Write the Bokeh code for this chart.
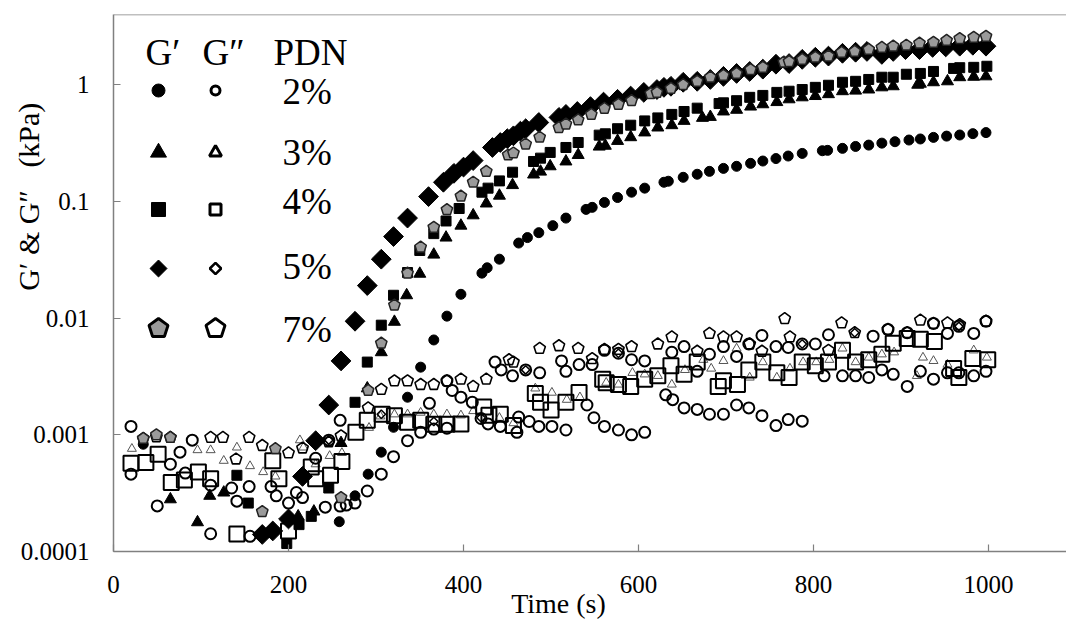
import math
from bokeh.plotting import figure
from bokeh.models import ColumnDataSource, FixedTicker, Span, Label, CustomJSTickFormatter
from bokeh.embed import file_html
from bokeh.resources import INLINE

# ---------------- data (time in s, modulus in kPa) ----------------
x_ticks = [0, 200, 400, 600, 800, 1000]
y_ticks = [1e-4, 1e-3, 1e-2, 1e-1, 1]
y_tick_labels = ["0.0001", "0.001", "0.01", "0.1", "1"]
pdn_labels = ["2%", "3%", "4%", "5%", "7%"]
x_title = "Time (s)"
y_title = "G\u2032 & G\u2033\u00a0\u00a0\u00a0(kPa)"

# G' 2 %
gp2_t = [34, 258, 276, 291, 306, 320, 336, 351, 366, 381, 397, 421, 427, 441, 463, 473, 486, 502, 517,
         540, 547, 561, 576, 592, 607, 629, 634, 651, 667, 681, 697, 712, 728, 742, 757, 771, 787, 810,
         816, 833, 848, 863, 878, 893, 909, 922, 937, 952, 967, 982, 997]
gp2_v = [0.00083, 0.00018, 0.00030, 0.00046, 0.00071, 0.00116, 0.0021, 0.0038, 0.0065, 0.0104, 0.016,
         0.0243, 0.027, 0.032, 0.044, 0.049, 0.054, 0.062, 0.072, 0.0855, 0.089, 0.098, 0.108, 0.120,
         0.130, 0.146, 0.149, 0.161, 0.171, 0.181, 0.192, 0.200, 0.212, 0.222, 0.233, 0.245, 0.258,
         0.272, 0.274, 0.285, 0.296, 0.304, 0.316, 0.325, 0.336, 0.343, 0.354, 0.363, 0.371, 0.381, 0.389]
# G' 3 %
gp3_t = [65, 96, 110, 126, 171, 180, 211, 229, 260, 290, 306, 321, 335, 350, 366, 380, 397, 411, 426,
         441, 456, 480, 488, 499, 517, 531, 555, 562, 576, 591, 607, 622, 638, 652, 673, 682, 697, 712,
         728, 742, 758, 772, 787, 802, 817, 833, 848, 863, 878, 891, 919, 922, 937, 953, 967, 983, 997]
gp3_v = [0.00028, 0.000178, 0.0003, 0.00032, 0.000142, 0.00015, 0.0002, 0.00022, 0.00085, 0.0025,
         0.0051, 0.0093, 0.0157, 0.024, 0.035, 0.049, 0.062, 0.076, 0.096, 0.112, 0.138, 0.17, 0.18,
         0.20, 0.22, 0.25, 0.295, 0.30, 0.33, 0.355, 0.39, 0.43, 0.45, 0.49, 0.52, 0.53, 0.59, 0.61,
         0.65, 0.68, 0.71, 0.75, 0.78, 0.80, 0.83, 0.88, 0.89, 0.91, 0.95, 0.97, 1.0, 1.02, 1.05, 1.07,
         1.16, 1.17, 1.18]
# G' 4 %
gp4_t = [141, 154, 198, 212, 226, 246, 276, 290, 306, 320, 336, 350, 366, 380, 395, 421, 428, 441, 456,
         480, 488, 499, 517, 531, 555, 562, 576, 591, 607, 622, 638, 652, 667, 692, 697, 712, 727, 742,
         758, 772, 787, 802, 817, 833, 848, 863, 878, 891, 906, 922, 937, 960, 967, 983, 998]
gp4_v = [0.00045, 0.00026, 0.000117, 0.00017, 0.0002, 0.00035, 0.0019, 0.0042, 0.0087, 0.0157, 0.0246,
         0.038, 0.053, 0.068, 0.087, 0.12, 0.13, 0.15, 0.178, 0.22, 0.235, 0.263, 0.29, 0.32, 0.37, 0.38,
         0.42, 0.45, 0.49, 0.52, 0.557, 0.59, 0.63, 0.69, 0.70, 0.73, 0.78, 0.81, 0.86, 0.88, 0.91, 0.95,
         0.99, 1.05, 1.07, 1.11, 1.16, 1.16, 1.23, 1.25, 1.30, 1.38, 1.40, 1.41, 1.44]
# G' 5 %
gp5_t = [170, 182, 200, 216, 231, 246, 260, 276, 290, 306, 320, 336, 360, 377, 389, 400, 411, 433, 442,
         450, 457, 465, 471, 486, 509, 517, 530, 545, 560, 576, 591, 606, 621, 629, 637, 651, 667, 682,
         697, 712, 727, 742, 757, 772, 787, 802, 817, 833, 848, 861, 878, 891, 905, 921, 936, 951, 967,
         982, 997]
gp5_v = [0.00014, 0.00015, 0.00019, 0.00044, 0.00089, 0.0018, 0.0043, 0.0094, 0.019, 0.032, 0.050,
         0.072, 0.110, 0.146, 0.174, 0.197, 0.224, 0.29, 0.32, 0.345, 0.365, 0.40, 0.42, 0.475, 0.525,
         0.557, 0.59, 0.65, 0.71, 0.75, 0.80, 0.86, 0.91, 0.95, 0.97, 1.05, 1.07, 1.11, 1.18, 1.25, 1.30,
         1.36, 1.50, 1.52, 1.65, 1.72, 1.76, 1.86, 1.90, 1.93, 1.82, 1.93, 2.0, 2.0, 2.09, 2.11, 2.14,
         2.18, 2.14]
# G' 7 %
gp7_t = [34, 49, 65, 170, 185, 260, 291, 306, 321, 336, 351, 366, 381, 397, 411, 426, 451, 457, 471,
         487, 509, 517, 531, 546, 561, 577, 592, 614, 621, 637, 651, 667, 682, 697, 712, 728, 742, 766,
         772, 787, 802, 817, 832, 847, 863, 878, 891, 906, 921, 937, 952, 967, 983, 997]
gp7_v = [0.00093, 0.0010, 0.00095, 0.00022, 0.00076, 0.00029, 0.0024, 0.0061, 0.0129, 0.0243, 0.0406,
         0.060, 0.085, 0.111, 0.146, 0.181, 0.25, 0.26, 0.31, 0.355, 0.43, 0.46, 0.50, 0.557, 0.627,
         0.68, 0.73, 0.84, 0.86, 0.93, 1.0, 1.07, 1.16, 1.20, 1.25, 1.35, 1.41, 1.56, 1.58, 1.65, 1.72,
         1.76, 1.89, 1.93, 2.01, 2.09, 2.14, 2.18, 2.27, 2.31, 2.40, 2.49, 2.55, 2.60]
# G'' 2 %
gpp2_t = [20, 20, 50, 65, 76, 82, 90, 111, 111, 135, 141, 155, 156, 180, 186, 200, 209, 216, 231, 242,
          246, 259, 259, 266, 276, 290, 306, 320, 336, 351, 361, 366, 381, 381, 387, 397, 410, 420, 428,
          436, 442, 443, 456, 461, 463, 471, 475, 486, 487, 501, 512, 517, 517, 532, 541, 547, 549, 561,
          561, 577, 577, 592, 592, 607, 607, 631, 638, 639, 652, 652, 667, 667, 681, 681, 697, 697, 712,
          712, 726, 726, 741, 741, 757, 757, 771, 771, 787, 787, 802, 812, 817, 833, 848, 863, 868, 878,
          885, 891, 907, 907, 922, 937, 937, 953, 953, 966, 966, 983, 983, 997, 997]
gpp2_v = [0.00118, 0.00046, 0.000246, 0.00056, 0.00071, 0.00047, 0.0009, 0.000142, 0.00037, 0.00035,
          0.00027, 0.00036, 0.000135, 0.00036, 0.0003, 0.00026, 0.00032, 0.00029, 0.00063, 0.00024,
          0.0009, 0.000245, 0.00133, 0.00025, 0.00026, 0.00033, 0.00046, 0.00065, 0.00089, 0.00105,
          0.00186, 0.00112, 0.00114, 0.0029, 0.0024, 0.0021, 0.0019, 0.00138, 0.00124, 0.0042, 0.00118,
          0.0036, 0.0032, 0.00105, 0.00142, 0.0036, 0.0013, 0.00118, 0.0034, 0.00118, 0.0043, 0.0011,
          0.0035, 0.0040, 0.0018, 0.0040, 0.0014, 0.00118, 0.0053, 0.0011, 0.005, 0.001, 0.0044, 0.00105,
          0.0043, 0.0022, 0.0051, 0.002, 0.0017, 0.0057, 0.00165, 0.0035, 0.0015, 0.0049, 0.0015, 0.0057,
          0.0018, 0.0047, 0.0017, 0.0060, 0.00146, 0.0071, 0.0012, 0.0057, 0.00135, 0.0056, 0.00131,
          0.006, 0.006, 0.0032, 0.0072, 0.0032, 0.0032, 0.0031, 0.007, 0.0036, 0.0080, 0.0033, 0.0026,
          0.0075, 0.0035, 0.003, 0.009, 0.0034, 0.0074, 0.0085, 0.0034, 0.0032, 0.0074, 0.0094, 0.0035]
# G'' 3 %
gpp3_t = [21, 49, 96, 111, 126, 141, 156, 171, 185, 213, 217, 231, 247, 261, 292, 305, 321, 336, 351,
          366, 381, 397, 411, 441, 457, 482, 501, 518, 533, 563, 577, 593, 607, 622, 638, 653, 674, 683,
          697, 712, 727, 742, 758, 773, 788, 803, 818, 833, 848, 863, 878, 892, 918, 925, 937, 953, 983,
          998]
gpp3_v = [0.00076, 0.001, 0.00074, 0.00074, 0.0006, 0.00078, 0.00054, 0.00048, 0.00044, 0.0009,
          0.00078, 0.00056, 0.00066, 0.0007, 0.00115, 0.00144, 0.0015, 0.0015, 0.00155, 0.0015, 0.0015,
          0.00147, 0.0016, 0.0014, 0.00126, 0.0025, 0.0023, 0.002, 0.0021, 0.0028, 0.0027, 0.0034,
          0.0033, 0.0032, 0.0027, 0.0036, 0.0044, 0.0037, 0.0043, 0.0055, 0.0031, 0.0042, 0.0031, 0.0037,
          0.0042, 0.0042, 0.0044, 0.0055, 0.0042, 0.0046, 0.0049, 0.0051, 0.0032, 0.0046, 0.0043, 0.004,
          0.0053, 0.0046]
# G'' 4 %
gpp4_t = [20, 37, 51, 66, 81, 97, 111, 141, 182, 189, 200, 226, 231, 248, 261, 277, 290, 307, 321, 336,
          351, 366, 381, 397, 423, 429, 442, 457, 482, 488, 500, 517, 532, 559, 563, 577, 591, 607, 622,
          637, 652, 667, 691, 697, 713, 726, 742, 758, 772, 787, 802, 817, 833, 848, 863, 878, 891, 907,
          922, 938, 960, 966, 982, 999]
gpp4_v = [0.00057, 0.00058, 0.00068, 0.00039, 0.00041, 0.00048, 0.00042, 0.000141, 0.0006, 0.00042,
          0.00015, 0.00053, 0.00042, 0.00045, 0.00059, 0.00105, 0.00133, 0.0015, 0.00146, 0.00128,
          0.00133, 0.00123, 0.00123, 0.00124, 0.00173, 0.00147, 0.0015, 0.0012, 0.00226, 0.0019,
          0.00163, 0.0019, 0.0023, 0.0030, 0.0028, 0.0027, 0.0026, 0.0030, 0.0032, 0.0039, 0.0033,
          0.0042, 0.0026, 0.0029, 0.0027, 0.0036, 0.0042, 0.0034, 0.0031, 0.0042, 0.0039, 0.0042,
          0.0053, 0.0042, 0.0044, 0.0049, 0.0061, 0.0067, 0.0066, 0.0063, 0.0037, 0.0031, 0.0045, 0.0044]
# G'' 5 %
gpp5_t = [34, 49, 246, 306, 366, 420, 471, 577, 787, 847, 966]
gpp5_v = [0.00093, 0.001, 0.0009, 0.0015, 0.0013, 0.0014, 0.0036, 0.005, 0.006, 0.0075, 0.0085]
# G'' 7 %
gpp7_t = [34, 49, 65, 111, 125, 140, 155, 170, 200, 216, 246, 260, 291, 306, 321, 336, 351, 366, 381,
          397, 411, 426, 452, 457, 487, 509, 531, 547, 561, 577, 592, 622, 638, 667, 681, 697, 712, 727,
          741, 767, 773, 817, 832, 847, 885, 907, 922, 937, 953, 967, 997]
gpp7_v = [0.00093, 0.00096, 0.00095, 0.00095, 0.00095, 0.00062, 0.00095, 0.00081, 0.0007, 0.00077,
          0.00087, 0.00098, 0.0017, 0.00245, 0.0029, 0.0029, 0.0027, 0.0027, 0.0029, 0.003, 0.0026,
          0.003, 0.0044, 0.0042, 0.0055, 0.0058, 0.0055, 0.0045, 0.0054, 0.0054, 0.0057, 0.006, 0.0069,
          0.0052, 0.0074, 0.0069, 0.0069, 0.006, 0.0052, 0.0099, 0.0069, 0.0053, 0.0091, 0.0075, 0.008,
          0.0075, 0.0096, 0.009, 0.0091, 0.0088, 0.0094]

# ---------------- layout ----------------
W, H = 1066, 623
BL, BR, BT, BB = 113, 0, 14, 72
X_RANGE = (0, 1089)
Y_RANGE = (1e-4, 4.0)
FW, FH = W - BL - BR, H - BT - BB
LY0, LY1 = math.log10(Y_RANGE[0]), math.log10(Y_RANGE[1])
FONT = "Liberation Serif"
AXIS_GRAY = "#808080"
NB = "\u00a0"


def dx(px):
    return X_RANGE[0] + (px - BL) / FW * (X_RANGE[1] - X_RANGE[0])


def dy(py):
    return 10 ** (LY1 - (py - BT) / FH * (LY1 - LY0))


p = figure(width=W, height=H, x_range=X_RANGE, y_range=Y_RANGE, y_axis_type="log",
           output_backend="svg", toolbar_location=None,
           min_border_left=BL, min_border_right=BR, min_border_top=BT, min_border_bottom=BB)
p.outline_line_color = None
p.grid.visible = False
p.background_fill_color = "white"
p.border_fill_color = "white"

p.xaxis.ticker = FixedTicker(ticks=x_ticks, minor_ticks=[])
p.yaxis.ticker = FixedTicker(ticks=y_ticks, minor_ticks=[])
p.yaxis.formatter = CustomJSTickFormatter(args=dict(labels=y_tick_labels),
                                          code="const e = Math.round(Math.log10(tick)); return labels[e + 4];")
p.axis.axis_line_color = AXIS_GRAY
p.axis.axis_line_width = 1.5
p.axis.major_tick_line_color = AXIS_GRAY
p.axis.major_tick_line_width = 1.2
p.axis.major_tick_in = 7
p.axis.major_tick_out = 0
p.axis.minor_tick_line_color = None
p.axis.major_label_text_font = FONT
p.axis.major_label_text_font_size = "25px"
p.axis.major_label_text_color = "black"
p.axis.axis_label_text_font = FONT
p.axis.axis_label_text_font_style = "normal"
p.axis.axis_label_text_color = "black"
p.xaxis.major_label_standoff = 24
p.yaxis.major_label_standoff = 24

# axis titles (padded with no-break spaces to place them where the reference has them)
p.xaxis.axis_label = x_title + NB * 9
p.xaxis.axis_label_text_font_size = "28px"
p.xaxis.axis_label_standoff = -8
p.yaxis.axis_label = NB * 23 + y_title
p.yaxis.axis_label_text_font_size = "30px"
p.yaxis.axis_label_standoff = -27

p.add_layout(Span(location=Y_RANGE[1], dimension="width", line_color=AXIS_GRAY, line_width=1.5))


def src(t, v):
    return ColumnDataSource(dict(t=t, v=v))


# G'' (open) series
p.scatter("t", "v", source=src(gpp3_t, gpp3_v), marker="triangle", size=9,
          fill_color=None, line_color="#555555", line_width=1)
p.scatter("t", "v", source=src(gpp4_t, gpp4_v), marker="square", size=15,
          fill_color=None, line_color="black", line_width=2)
p.scatter("t", "v", source=src(gpp2_t, gpp2_v), marker="circle", size=11,
          fill_color=None, line_color="black", line_width=2)
p.ngon("t", "v", source=src(gpp7_t, gpp7_v), radius=6, radius_units="screen", n=5,
       fill_color=None, line_color="black", line_width=1.6)
p.scatter("t", "v", source=src(gpp5_t, gpp5_v), marker="square", angle=math.pi / 4, size=6,
          fill_color=None, line_color="black", line_width=1.5)

# G' (filled) series
p.scatter("t", "v", source=src(gp2_t, gp2_v), marker="circle", size=10,
          fill_color="black", line_color="black")
p.scatter("t", "v", source=src(gp3_t, gp3_v), marker="triangle", size=12,
          fill_color="black", line_color="black")
p.scatter("t", "v", source=src(gp4_t, gp4_v), marker="square", size=10,
          fill_color="black", line_color="black")
p.scatter("t", "v", source=src(gp5_t, gp5_v), marker="square", angle=math.pi / 4, size=14,
          fill_color="black", line_color="black")
p.ngon("t", "v", source=src(gp7_t, gp7_v), radius=6, radius_units="screen", n=5,
       fill_color="#9a9a9a", line_color="#222222", line_width=1.5)

# ---------------- custom legend ----------------
col_gp, col_gpp, col_txt = 158, 215, 282
rows_y = [90, 152, 209, 268, 328]
rows_txt = [91, 152, 201, 266, 329]


def leg(marker, col, row, **kw):
    p.scatter([dx(col)], [dy(rows_y[row])], marker=marker, **kw)


leg("circle", col_gp, 0, size=13, fill_color="black", line_color="black")
leg("circle", col_gpp, 0, size=9, fill_color=None, line_color="black", line_width=3)
leg("triangle", col_gp, 1, size=16, fill_color="black", line_color="black")
leg("triangle", col_gpp, 1, size=12, fill_color=None, line_color="black", line_width=3)
leg("square", col_gp, 2, size=14, fill_color="black", line_color="black")
leg("square", col_gpp, 2, size=11, fill_color=None, line_color="black", line_width=3)
leg("square", col_gp, 3, size=12, angle=math.pi / 4, fill_color="black", line_color="black")
leg("square", col_gpp, 3, size=8, angle=math.pi / 4, fill_color=None, line_color="black", line_width=2.5)
p.ngon([dx(col_gp)], [dy(rows_y[4])], radius=10, radius_units="screen", n=5,
       fill_color="#9a9a9a", line_color="black", line_width=3)
p.ngon([dx(col_gpp)], [dy(rows_y[4])], radius=10, radius_units="screen", n=5,
       fill_color=None, line_color="black", line_width=3)

for txt, px_ in (("G\u2032", 145), ("G\u2033", 202), ("PDN", 273)):
    p.add_layout(Label(x=dx(px_), y=dy(52), text=txt, text_font=FONT, text_font_size="37px",
                       text_baseline="middle", text_align="left", text_color="black"))
for i, lab in enumerate(pdn_labels):
    p.add_layout(Label(x=dx(col_txt), y=dy(rows_txt[i]), text=lab, text_font=FONT,
                       text_font_size="37px", text_baseline="middle", text_align="left",
                       text_color="black"))

open("out.html", "w").write(file_html(p, INLINE))
